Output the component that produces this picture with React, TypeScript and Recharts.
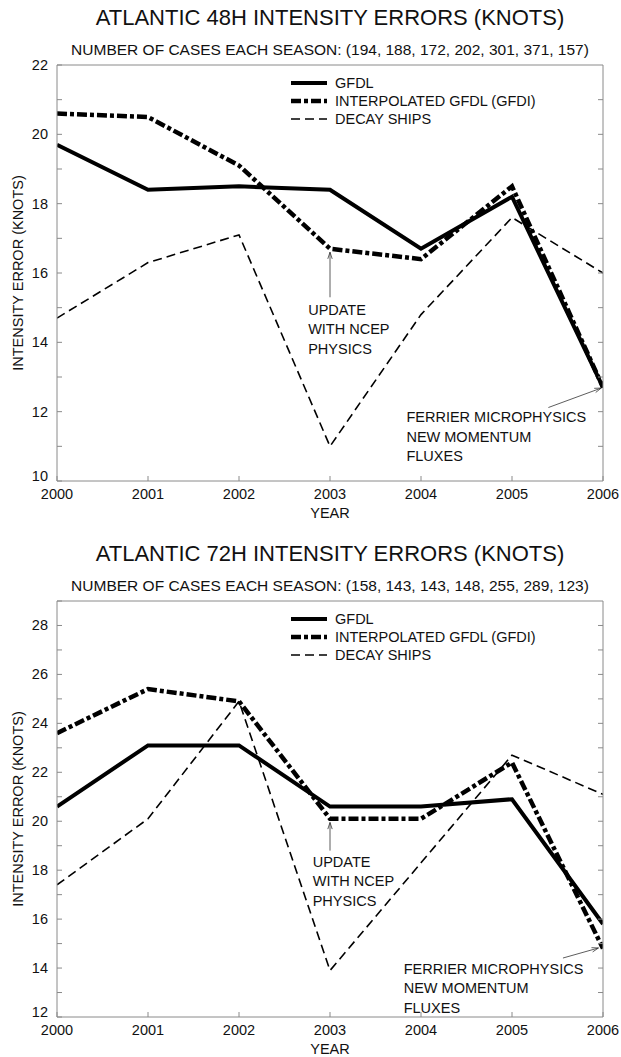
import React from "react";
import { LineChart, Line, XAxis, YAxis, ReferenceLine, ReferenceDot, Legend } from "recharts";

const years = [2000, 2001, 2002, 2003, 2004, 2005, 2006];

const gfdl48 = [19.7, 18.4, 18.5, 18.4, 16.7, 18.2, 12.7];
const gfdi48 = [20.6, 20.5, 19.1, 16.7, 16.4, 18.5, 12.7];
const ships48 = [14.7, 16.3, 17.1, 11.0, 14.8, 17.6, 16.0];
const cases48 = [194, 188, 172, 202, 301, 371, 157];

const gfdl72 = [20.6, 23.1, 23.1, 20.6, 20.6, 20.9, 15.8];
const gfdi72 = [23.6, 25.4, 24.9, 20.1, 20.1, 22.4, 14.8];
const ships72 = [17.4, 20.1, 24.9, 13.9, 18.3, 22.7, 21.1];
const cases72 = [158, 143, 143, 148, 255, 289, 123];

const seriesNames = ["GFDL", "INTERPOLATED GFDL (GFDI)", "DECAY SHIPS"];
const updateNote = ["UPDATE", "WITH NCEP", "PHYSICS"];
const ferrierNote = ["FERRIER MICROPHYSICS", "NEW MOMENTUM", "FLUXES"];

const FONT = "'Liberation Sans', Arial, Helvetica, sans-serif";
const FRAME = "#8a8a8a";
const INK = "#111";

const lineStyles: Record<string, { width: number; dash?: string }> = {
  gfdl: { width: 4 },
  gfdi: { width: 4.5, dash: "10 3 4 3" },
  ships: { width: 1.6, dash: "9 5" },
};

type Side = "left" | "right" | "top" | "bottom";

// ticks drawn inward from the frame, labels only where asked
const makeTick = (side: Side, labelled: (v: number) => boolean, lowest = NaN) => (props: any) => {
  const { x, y, payload } = props;
  const v = payload.value as number;
  const len = 5;
  let tick;
  let label = null;
  if (side === "left") {
    tick = <line x1={x} x2={x + len} y1={y} y2={y} stroke={FRAME} />;
    if (labelled(v))
      label = (
        <text x={x - 9} y={v === lowest ? y - 5 : y} textAnchor="end" dominantBaseline="central" fontSize={14.5} fill={INK}>
          {v}
        </text>
      );
  } else if (side === "right") {
    tick = <line x1={x} x2={x - len} y1={y} y2={y} stroke={FRAME} />;
  } else if (side === "top") {
    tick = <line x1={x} x2={x} y1={y} y2={y + len} stroke={FRAME} />;
  } else {
    tick = <line x1={x} x2={x} y1={y} y2={y - len} stroke={FRAME} />;
    if (labelled(v))
      label = (
        <text x={x} y={y + 18} textAnchor="middle" fontSize={14.5} fill={INK}>
          {v}
        </text>
      );
  }
  return (
    <g>
      {tick}
      {label}
    </g>
  );
};

const Arrow = (props: any) => {
  const { x1, y1, x2, y2 } = props;
  const a = Math.atan2(y2 - y1, x2 - x1);
  const h = 7;
  const w = 0.32;
  const pa = `${x2 - h * Math.cos(a - w)},${y2 - h * Math.sin(a - w)}`;
  const pb = `${x2 - h * Math.cos(a + w)},${y2 - h * Math.sin(a + w)}`;
  return (
    <g stroke="#333" strokeWidth={0.8} fill="none">
      <line x1={x1} y1={y1} x2={x2} y2={y2} />
      <polyline points={`${pa} ${x2},${y2} ${pb}`} />
    </g>
  );
};

const noteShape = (lines: string[]) => (props: any) => {
  const { cx, cy } = props;
  return (
    <text fontSize={14.5} fill={INK}>
      {lines.map((l, i) => (
        <tspan key={i} x={cx} y={cy + 10.5 + i * 19.5}>
          {l}
        </tspan>
      ))}
    </text>
  );
};

const LegendBox = (props: any) => {
  const items = [...(props.payload || [])].sort(
    (a: any, b: any) => seriesNames.indexOf(a.value) - seriesNames.indexOf(b.value)
  );
  return (
    <div style={{ fontFamily: FONT, fontSize: 14.5, color: INK }}>
      {items.map((it: any) => {
        const st = lineStyles[it.dataKey];
        return (
          <div key={it.dataKey} style={{ display: "flex", alignItems: "center", height: 18 }}>
            <svg width={36} height={10} style={{ marginRight: 8 }}>
              <line x1={0} x2={36} y1={5} y2={5} stroke="#000" strokeWidth={st.width} strokeDasharray={st.dash} />
            </svg>
            <span>{it.value}</span>
          </div>
        );
      })}
    </div>
  );
};

type PanelProps = {
  top: number;
  hours: string;
  cases: number[];
  gfdl: number[];
  gfdi: number[];
  ships: number[];
  yMin: number;
  yMax: number;
  updateArrow: [number, number];
  updateAt: [number, number];
  ferrierArrow: [number, number, number, number];
  ferrierAt: [number, number];
};

function Panel(p: PanelProps) {
  const data = years.map((year, i) => ({ year, gfdl: p.gfdl[i], gfdi: p.gfdi[i], ships: p.ships[i] }));
  const allTicks: number[] = [];
  for (let v = p.yMin; v <= Math.floor(p.yMax); v++) allTicks.push(v);
  const even = (v: number) => v % 2 === 0;
  const inner = allTicks.filter((v) => v > p.yMin && v < p.yMax);
  const innerYears = years.slice(1, -1);

  return (
    <div style={{ position: "absolute", left: 0, top: p.top, width: 621, height: 536 }}>
      <div style={{ position: "absolute", left: 57, width: 546, top: 5, textAlign: "center", fontSize: 22, lineHeight: "26px", color: INK }}>
        ATLANTIC {p.hours}H INTENSITY ERRORS (KNOTS)
      </div>
      <div style={{ position: "absolute", left: 57, width: 546, top: 40, textAlign: "center", fontSize: 15.5, lineHeight: "20px", color: INK }}>
        NUMBER OF CASES EACH SEASON: ({p.cases.join(", ")})
      </div>
      <LineChart width={621} height={536} data={data} margin={{ top: 60, right: 13, bottom: 0, left: 0 }}>
        <XAxis
          dataKey="year"
          type="number"
          domain={[2000, 2006]}
          ticks={years}
          interval={0}
          allowDataOverflow
          height={55}
          tickSize={0}
          tickMargin={0}
          stroke={FRAME}
          tick={makeTick("bottom", () => true)}
          label={{
            content: ({ viewBox }: any) => (
              <text x={viewBox.x + viewBox.width / 2} y={viewBox.y + 37} textAnchor="middle" fontSize={14.5} fill={INK}>
                YEAR
              </text>
            ),
          }}
        />
        <XAxis
          xAxisId="t"
          orientation="top"
          type="number"
          domain={[2000, 2006]}
          ticks={innerYears}
          interval={0}
          allowDataOverflow
          height={5}
          tickSize={0}
          tickMargin={0}
          stroke={FRAME}
          tick={makeTick("top", () => false)}
        />
        <YAxis
          type="number"
          domain={[p.yMin, p.yMax]}
          ticks={allTicks}
          interval={0}
          allowDataOverflow
          width={57}
          tickSize={0}
          tickMargin={0}
          stroke={FRAME}
          tick={makeTick("left", even, p.yMin)}
          label={{
            content: ({ viewBox }: any) => (
              <text
                transform={`translate(${viewBox.x + 18}, ${viewBox.y + viewBox.height / 2}) rotate(-90)`}
                textAnchor="middle"
                dominantBaseline="central"
                fontSize={14.5}
                fill={INK}
              >
                INTENSITY ERROR (KNOTS)
              </text>
            ),
          }}
        />
        <YAxis
          yAxisId="r"
          orientation="right"
          type="number"
          domain={[p.yMin, p.yMax]}
          ticks={inner}
          interval={0}
          allowDataOverflow
          width={5}
          tickSize={0}
          tickMargin={0}
          stroke={FRAME}
          tick={makeTick("right", () => false)}
        />
        <Legend
          layout="horizontal"
          verticalAlign="middle"
          align="center"
          wrapperStyle={{ left: 291, top: 74, width: "auto", height: "auto" }}
          content={LegendBox}
        />
        <Line dataKey="ships" name={seriesNames[2]} stroke="#000" strokeWidth={lineStyles.ships.width} strokeDasharray={lineStyles.ships.dash} dot={false} isAnimationActive={false} />
        <Line dataKey="gfdi" name={seriesNames[1]} stroke="#000" strokeWidth={lineStyles.gfdi.width} strokeDasharray={lineStyles.gfdi.dash} dot={false} isAnimationActive={false} />
        <Line dataKey="gfdl" name={seriesNames[0]} stroke="#000" strokeWidth={lineStyles.gfdl.width} dot={false} isAnimationActive={false} />
        <ReferenceLine
          segment={[
            { x: 2003, y: p.updateArrow[0] },
            { x: 2003, y: p.updateArrow[1] },
          ]}
          shape={Arrow}
        />
        <ReferenceLine
          segment={[
            { x: p.ferrierArrow[0], y: p.ferrierArrow[1] },
            { x: p.ferrierArrow[2], y: p.ferrierArrow[3] },
          ]}
          shape={Arrow}
        />
        <ReferenceDot x={p.updateAt[0]} y={p.updateAt[1]} r={0} shape={noteShape(updateNote)} />
        <ReferenceDot x={p.ferrierAt[0]} y={p.ferrierAt[1]} r={0} shape={noteShape(ferrierNote)} />
      </LineChart>
    </div>
  );
}

export default function App() {
  return (
    <div
      style={{
        position: "absolute",
        left: 0,
        top: 0,
        width: 621,
        height: 1057,
        overflow: "hidden",
        background: "#fff",
        fontFamily: FONT,
      }}
    >
      <Panel
        top={0}
        hours="48"
        cases={cases48}
        gfdl={gfdl48}
        gfdi={gfdi48}
        ships={ships48}
        yMin={10}
        yMax={22}
        updateArrow={[15.3, 16.6]}
        updateAt={[2002.76, 15.1]}
        ferrierArrow={[2005.4, 12.12, 2005.98, 12.68]}
        ferrierAt={[2003.84, 12.0]}
      />
      <Panel
        top={536}
        hours="72"
        cases={cases72}
        gfdl={gfdl72}
        gfdi={gfdi72}
        ships={ships72}
        yMin={12}
        yMax={29}
        updateArrow={[18.8, 19.95]}
        updateAt={[2002.81, 18.57]}
        ferrierArrow={[2005.56, 14.41, 2005.95, 14.82]}
        ferrierAt={[2003.81, 14.2]}
      />
    </div>
  );
}
